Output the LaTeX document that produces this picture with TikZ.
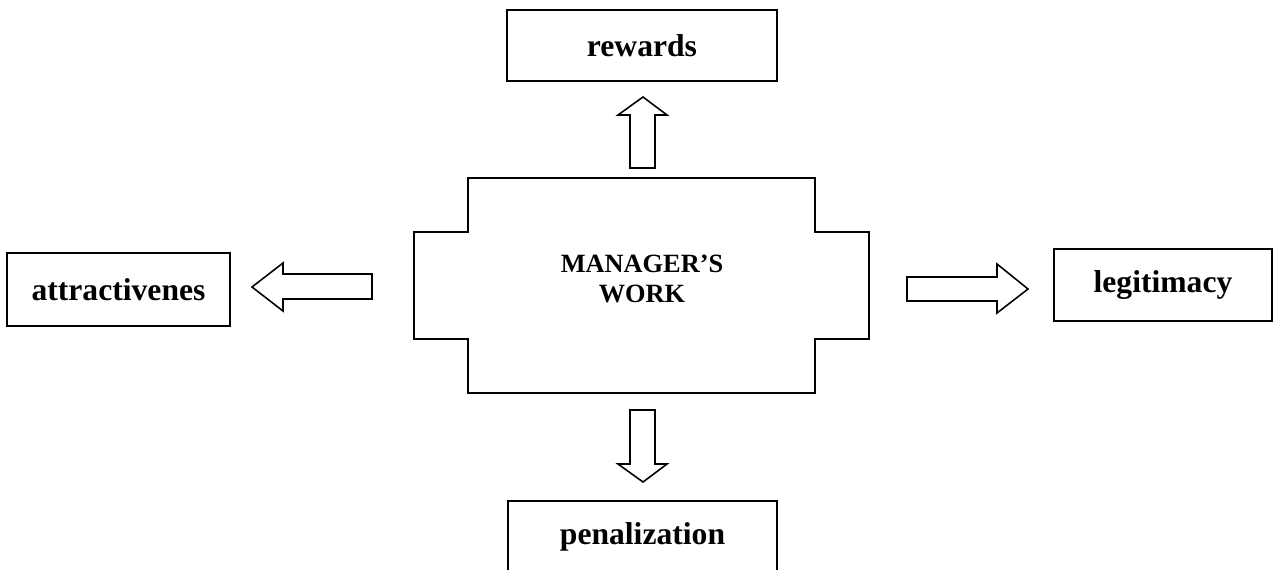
\documentclass[tikz,border=0pt]{standalone}
\usepackage{fontspec}
\setmainfont{Liberation Serif}
\usepackage{tikz}

\tikzset{
  lbox/.style={draw,line width=1pt,inner sep=0pt,font=\fontsize{18}{21}\selectfont\bfseries},
  barrow/.style={draw,line width=0.9pt}
}

\begin{document}
\begin{tikzpicture}[x=0.02cm,y=-0.02cm]
\path[use as bounding box] (0,0) rectangle (1278,569);
% centre block
\draw[line width=1pt] (468,178) -- (815,178) -- (815,232) -- (869,232) -- (869,339) -- (815,339)
  -- (815,393) -- (468,393) -- (468,339) -- (414,339) -- (414,232) -- (468,232) -- cycle;
\node[align=center,font=\fontsize{15}{17}\selectfont\bfseries] (work) at (642,279) {MANAGER'S\\WORK};
% boxes
\node[lbox,minimum width=5.4cm,minimum height=1.42cm] (rewards) at (642,45.5) {rewards};
\node[lbox,minimum width=4.46cm,minimum height=1.46cm] (attract) at (118.5,289.5) {attractivenes};
\node[lbox,minimum width=4.36cm,minimum height=1.44cm] (legit) at (1163,285) {legitimacy};
\node[lbox,minimum width=5.38cm,minimum height=1.42cm] (penal) at (642.5,536.5) {penalization};
% block arrows
\draw[barrow] (630,168) -- (630,115) -- (618,115) -- (643,97) -- (667,115) -- (655,115) -- (655,168) -- cycle;
\draw[barrow] (630,410) -- (655,410) -- (655,464) -- (667,464) -- (643,482) -- (618,464) -- (630,464) -- cycle;
\draw[barrow] (372,274) -- (283,274) -- (283,263) -- (252,287) -- (283,311) -- (283,299) -- (372,299) -- cycle;
\draw[barrow] (907,277) -- (997,277) -- (997,264) -- (1028,289) -- (997,313) -- (997,301) -- (907,301) -- cycle;
\end{tikzpicture}
\end{document}
